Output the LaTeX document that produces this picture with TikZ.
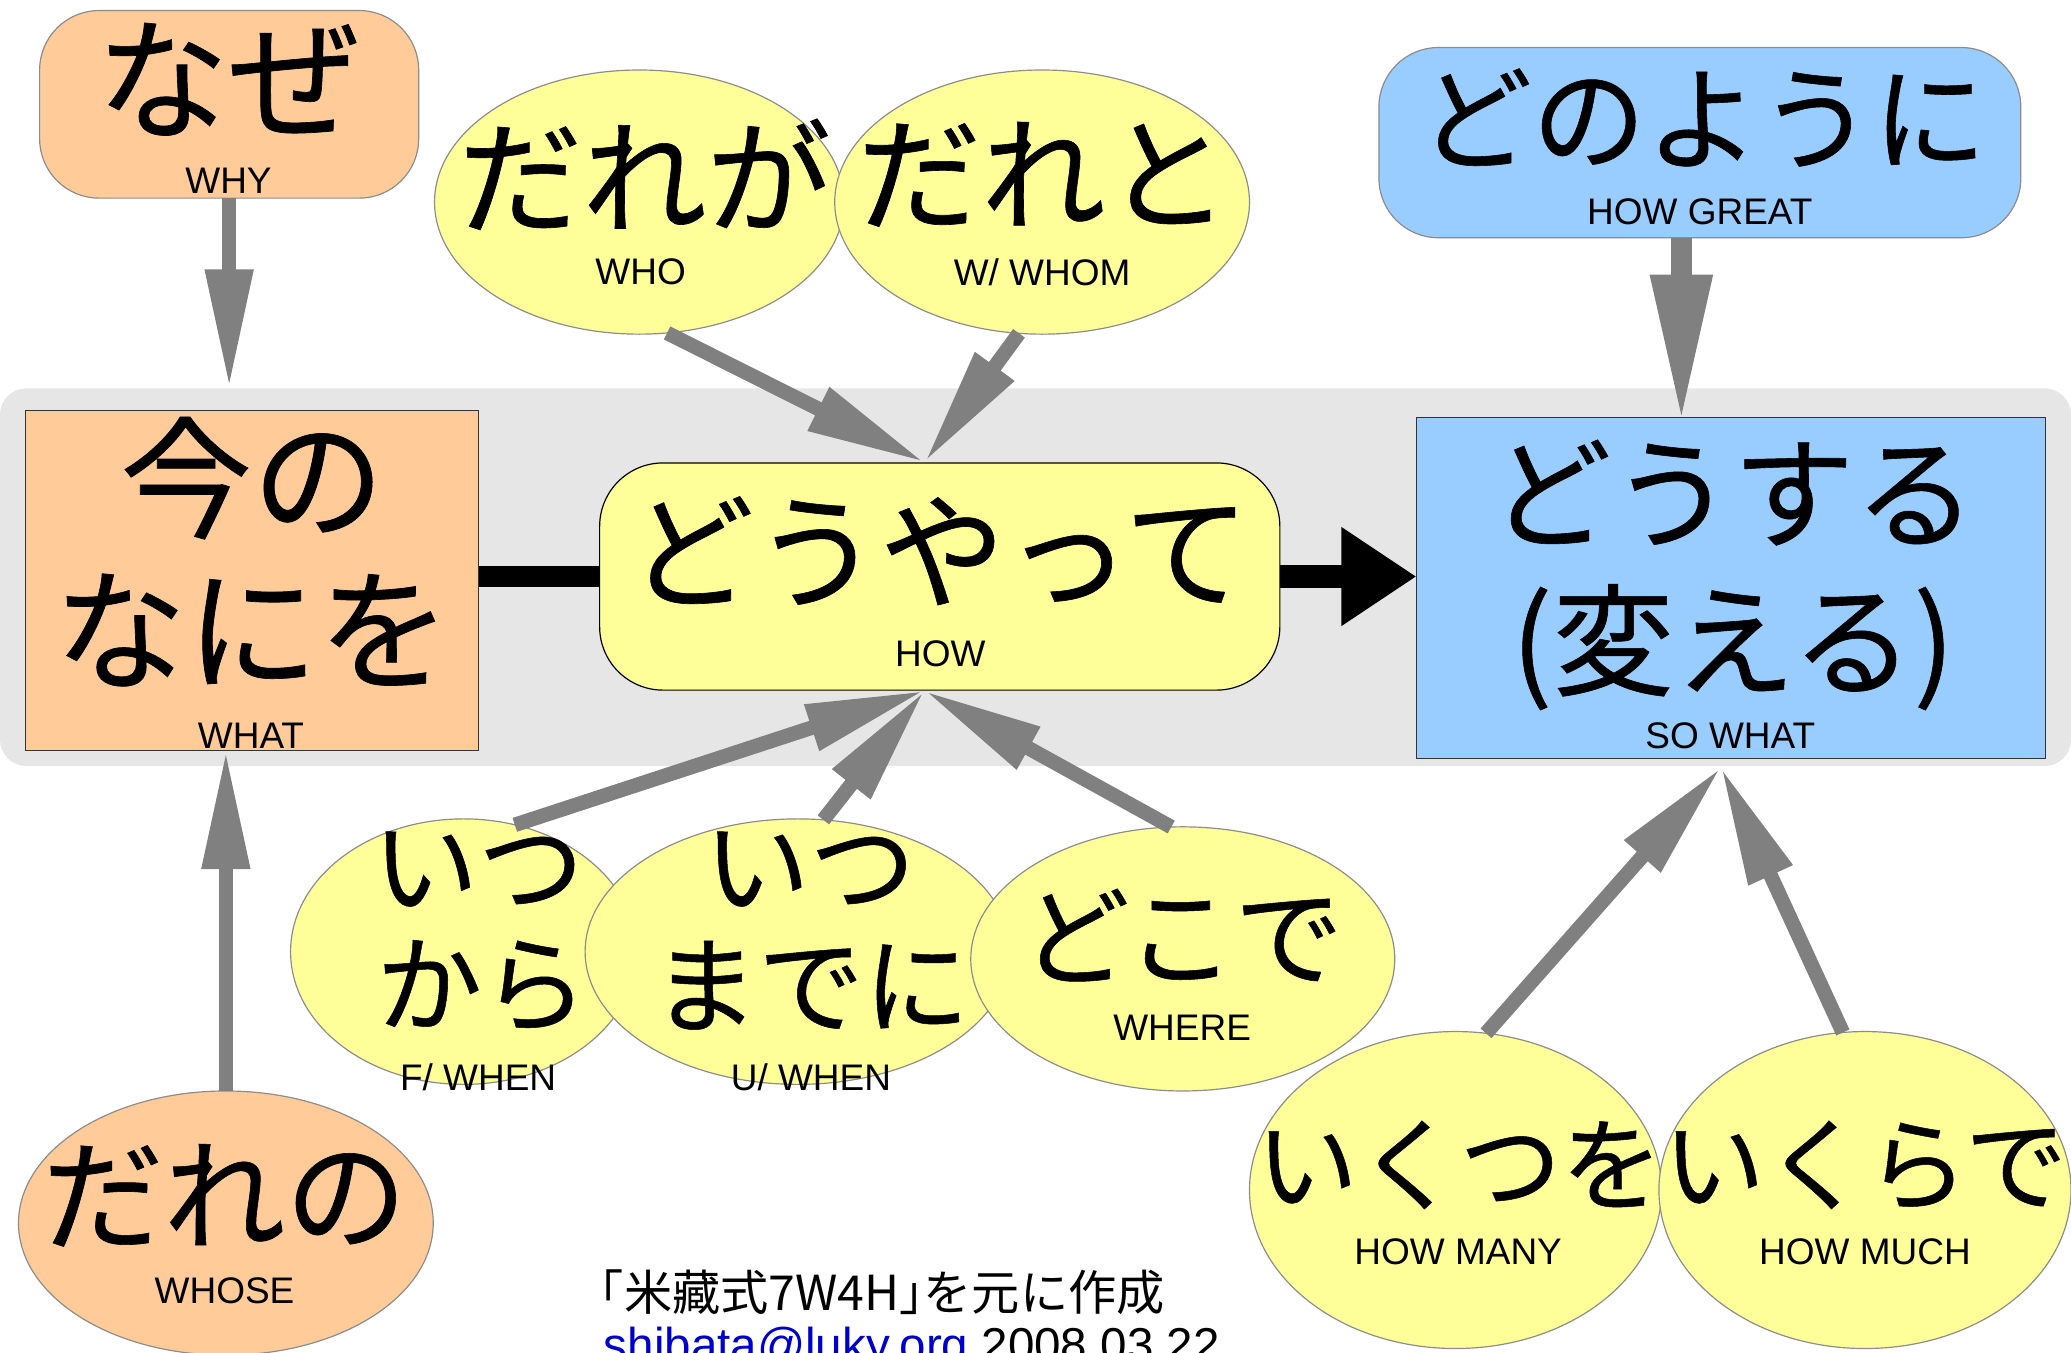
\documentclass[tikz,border=0pt]{standalone}
\usepackage{fontspec}
\setmainfont{Liberation Sans}
\newfontfamily\jp[FakeBold=0.5]{Noto Sans CJK JP}
\newfontfamily\jph[RawFeature=+halt]{Noto Sans CJK JP}
\usetikzlibrary{arrows.meta,shapes.geometric}
\definecolor{peach}{HTML}{FFCC99}
\definecolor{lyellow}{HTML}{FFFF99}
\definecolor{lblue}{HTML}{99CCFF}
\definecolor{bggray}{HTML}{E6E6E6}
\definecolor{agray}{HTML}{808080}
\definecolor{bordgray}{HTML}{8C8C8C}
\definecolor{linkblue}{HTML}{0000CC}
\tikzset{
  shp/.style={inner sep=0pt, outer sep=0pt},
  ell/.style={shp, ellipse, draw=bordgray, line width=0.9pt, fill=lyellow},
  pell/.style={shp, ellipse, draw=bordgray, line width=0.9pt, fill=peach},
  rbox/.style={shp, rounded corners=45pt, draw=bordgray, line width=0.9pt},
  sbox/.style={shp, draw=black!80, line width=0.9pt},
  jt/.style={inner sep=0pt},
  en/.style={inner sep=0pt, font=\fontsize{28}{30}\selectfont},
  garr/.style={draw=agray, line width=11pt, -{Triangle[length=90pt,width=34pt]}},
  garrbig/.style={draw=agray, line width=16pt, -{Triangle[length=113pt,width=43pt]}},
  bline/.style={draw=black, line width=16pt},
  barr/.style={draw=black, line width=17pt, -{Triangle[length=57pt,width=71pt]}},
}
\newcommand{\jsz}[1]{\jp\fontsize{#1}{#1}\selectfont}
\begin{document}
\begin{tikzpicture}[x=1pt,y=-1pt]
\useasboundingbox (0,0) rectangle (1568,1024);
% background band
\node[shp, fill=bggray, rounded corners=20pt, minimum width=1568pt, minimum height=286pt] (bg) at (784,437) {};
% shapes
\node[rbox, fill=peach, minimum width=287pt, minimum height=142pt] (nz) at (173.5,79) {};
\node[ell, minimum width=310pt, minimum height=200pt] (dg) at (484,153) {};
\node[ell, minimum width=314pt, minimum height=200pt] (dt) at (789,153) {};
\node[rbox, fill=lblue, minimum width=486pt, minimum height=144pt] (dy) at (1287,108) {};
\node[sbox, fill=peach, minimum width=343pt, minimum height=257pt] (nn) at (191,439.5) {};
\node[shp, rounded corners=48pt, draw=black, line width=0.9pt, fill=lyellow, minimum width=515pt, minimum height=172pt] (hy) at (711.5,436.5) {};
\node[sbox, fill=lblue, minimum width=476pt, minimum height=258pt] (ds) at (1310.5,445) {};
\node[ell, minimum width=262pt, minimum height=201pt] (ik) at (351,720.5) {};
\node[ell, minimum width=322pt, minimum height=201pt] (im) at (604,720.5) {};
\node[ell, minimum width=321pt, minimum height=200pt] (dk) at (895.5,726) {};
\node[pell, minimum width=314pt, minimum height=200pt] (dn) at (171,926) {};
\node[ell, minimum width=312pt, minimum height=240pt] (ko) at (1102,901) {};
\node[ell, minimum width=312pt, minimum height=240pt] (kr) at (1412,901) {};
% connector ends
\coordinate (hyT) at (700,350);
\coordinate (hyB) at (700,523);
\coordinate (dsB) at (1303,581);
\coordinate (dsT) at (1273,321);
% connectors
\draw[bline] (nn.east |- hy.west) -- (hy.west);
\draw[barr] (hy.east) -- (hy.east -| ds.west);
\draw[garr] (nz.south) -- (nz.south |- bg.north);
\draw[garrbig] (dy.south -| dsT) -- (dsT);
\draw[garr] (dg.-78) -- (hyT);
\draw[garr] (dt.260) -- (hyT);
\draw[garr] (ik.68.6) -- (hyB);
\draw[garr] (im.79.8) -- (hyB);
\draw[garr] (dk.95.4) -- (hyB);
\draw[garr] (ko.79.5) -- (dsB);
\draw[garr] (kr.98.6) -- (dsB);
\draw[garr] (dn.north) -- (dn.north |- nn.south);
% texts
\node[jt, font=\jsz{100}] (tnz) at (173,60) {なぜ};
\node[en] (enz) at (173,137) {WHY};
\node[jt, font=\jsz{94}] (tdg) at (488,132) {だれが};
\node[en] (edg) at (485,206) {WHO};
\node[jt, font=\jsz{94}] (tdt) at (790,132) {だれと};
\node[en] (edt) at (789,206) {W/ WHOM};
\node[jt, font=\jsz{86}] (tdy) at (1289,89) {どのように};
\node[en] (edy) at (1287,160) {HOW GREAT};
\node[jt, font=\jsz{100}] (tnn1) at (191,362) {今の};
\node[jt, font=\jsz{100}] (tnn2) at (191,477) {なにを};
\node[en] (enn) at (190,557) {WHAT};
\node[jt, font=\jsz{95}] (thy) at (711,417) {どうやって};
\node[en] (ehy) at (712,495) {HOW};
\node[jt, font=\jsz{92}] (tds1) at (1312,373) {どうする};
\node[jt, font=\jsz{92}] (tds2) at (1312,490) {(変える)};
\node[en] (eds) at (1310,557) {SO WHAT};
\node[jt, font=\jsz{80}] (tik1) at (362,658) {いつ};
\node[jt, font=\jsz{80}] (tik2) at (365,746) {から};
\node[en] (eik) at (362,816) {F/ WHEN};
\node[jt, font=\jsz{80}] (tim1) at (613,658) {いつ};
\node[jt, font=\jsz{80}] (tim2) at (614,746) {までに};
\node[en] (eim) at (614,816) {U/ WHEN};
\node[jt, font=\jsz{82}] (tdk) at (895,708) {どこで};
\node[en] (edk) at (895,778) {WHERE};
\node[jt, font=\jsz{92}] (tdn) at (170,905) {だれの};
\node[en] (edn) at (170,977) {WHOSE};
\node[jt, font=\jsz{77}] (tko) at (1105,882) {いくつを};
\node[en] (eko) at (1104,948) {HOW MANY};
\node[jt, font=\jsz{77}] (tkr) at (1412,882) {いくらで};
\node[en] (ekr) at (1412,948) {HOW MUCH};
% footer
\node[anchor=base west, inner sep=0pt, font=\jph\fontsize{36.5}{36.5}\selectfont] (ft1) at (454,992) {「米藏式7W4H」を元に作成};
\node[anchor=base west, inner sep=0pt, font=\fontsize{36}{36}\selectfont] (ft2) at (457,1031) {\textcolor{linkblue}{shibata@luky.org} 2008.03.22};
\end{tikzpicture}
\end{document}
